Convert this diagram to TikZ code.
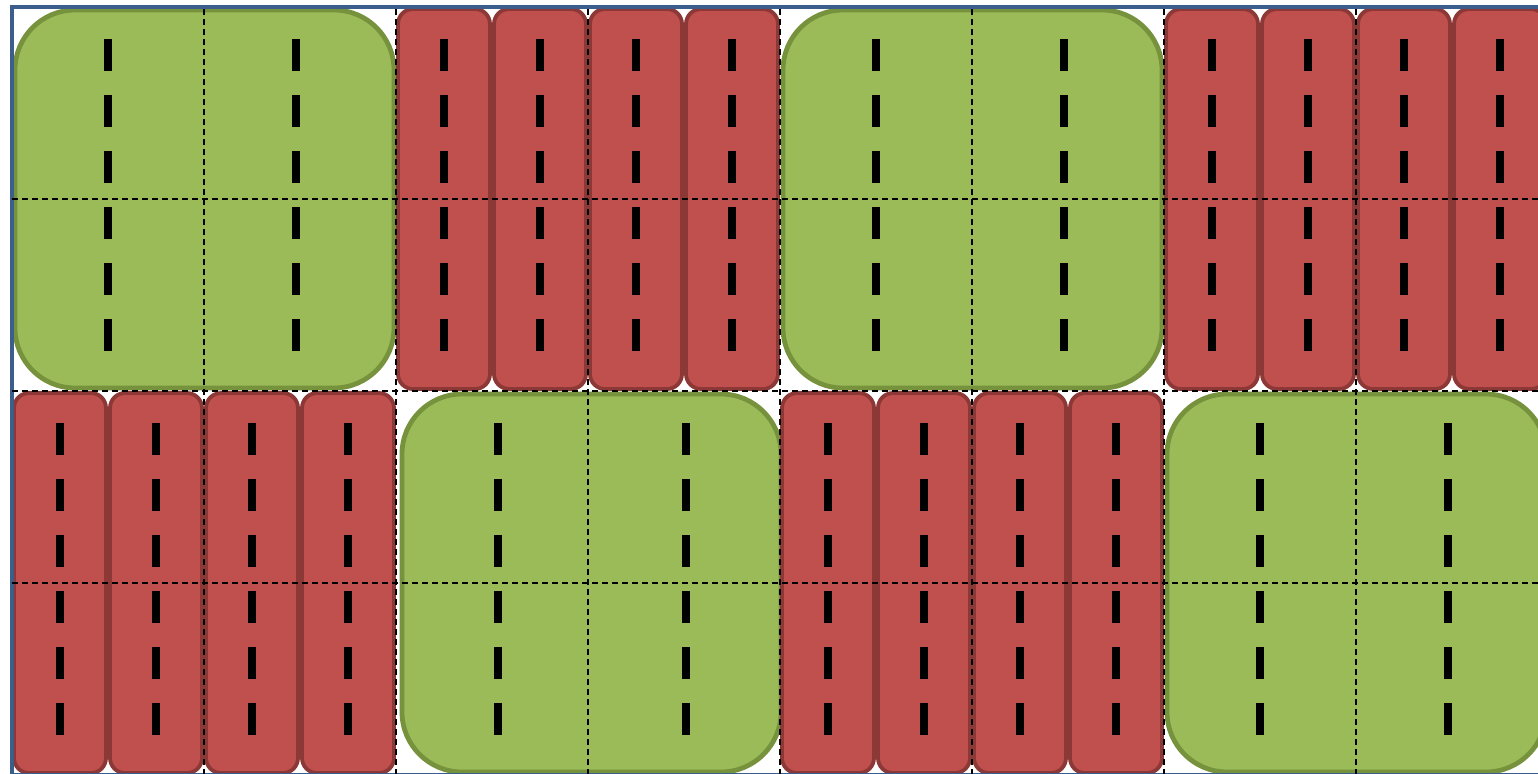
\documentclass[tikz,border=0pt]{standalone}
\definecolor{gfill}{HTML}{9BBB59}
\definecolor{gline}{HTML}{76923C}
\definecolor{rfill}{HTML}{C0504D}
\definecolor{rline}{HTML}{8C3836}
\definecolor{bframe}{HTML}{3B5E8C}
\tikzset{
  greenblock/.style={fill=gfill,draw=gline,line width=2.4pt,rounded corners=30pt},
  redstrip/.style={fill=rfill,draw=rline,line width=1.9pt,rounded corners=7.5pt},
  bar/.style={fill=black},
  frameline/.style={draw=bframe,line width=2.2pt},
  griddash/.style={draw=black,line width=0.75pt,dash pattern=on 3pt off 2pt}
}
\begin{document}
\begin{tikzpicture}[x=0.5pt,y=-0.5pt]
\useasboundingbox (0,0) rectangle (1538,773);
\clip (0,0) rectangle (1538,773);
\fill[white] (0,0) rectangle (1538,773);
\foreach \r in {0,1}{
  \foreach \b in {0,...,3}{
    \pgfmathtruncatemacro{\t}{mod(\r+\b,2)}
    \pgfmathsetmacro{\bx}{12+\b*384}
    \pgfmathsetmacro{\by}{7+\r*384}
    \pgfmathtruncatemacro{\sh}{(\r==1 && \b==1) ? 6 : 0}
    \ifnum\t=0
      \draw[greenblock] (\bx+3+\sh/2,\by+3) rectangle (\bx+382+\sh/2,\by+381);
      \foreach \k in {0,...,5}{
        \fill[bar] (\bx+\sh+92,\by+32+\k*56) rectangle (\bx+\sh+100,\by+64+\k*56);
        \fill[bar] (\bx+\sh+280,\by+32+\k*56) rectangle (\bx+\sh+288,\by+64+\k*56);
      }
    \else
      \foreach \i in {0,...,3}{
        \draw[redstrip] (\bx+\i*96+2,\by+2) rectangle (\bx+\i*96+94,\by+382);
        \foreach \k in {0,...,5}{
          \fill[bar] (\bx+\i*96+44,\by+32+\k*56) rectangle (\bx+\i*96+52,\by+64+\k*56);
        }
      }
    \fi
  }
}
\draw[frameline] (12,7) rectangle (1560,775);
\foreach \c in {1,...,7}{
  \draw[griddash] (12+\c*192,9) -- (12+\c*192,775);
}
\foreach \q in {1,2,3}{
  \draw[griddash] (12,7+\q*192) -- (1548,7+\q*192);
}
\end{tikzpicture}
\end{document}
